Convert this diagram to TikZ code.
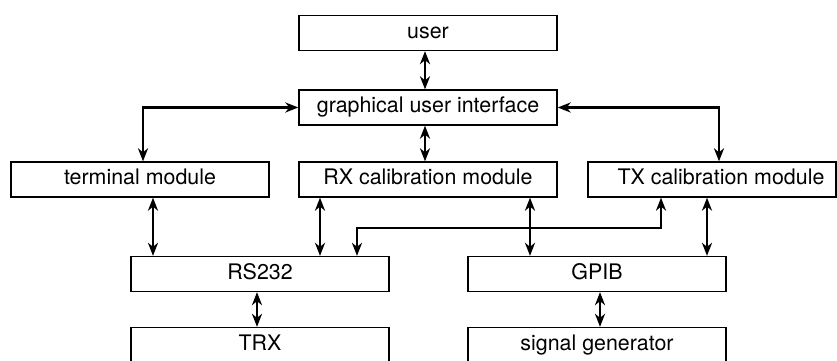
\documentclass[tikz,border=0pt]{standalone}
\usepackage{fontspec}
\setmainfont{TeX Gyre Heros}
\usetikzlibrary{arrows.meta}
\begin{document}
\begin{tikzpicture}[x=1pt,y=1pt,
  blk/.style={draw, line width=1.3pt, minimum width=258pt, minimum height=35pt, inner sep=0pt,
    font=\fontsize{21.4}{25}\selectfont, text height=15.5pt, text depth=4.5pt},
  link/.style={line width=2.4pt, {Stealth[length=13pt,width=10pt,inset=4pt]}-{Stealth[length=13pt,width=10pt,inset=4pt]}}]
\useasboundingbox (0,0) rectangle (837,361);
\clip (0,0) rectangle (837,361);
\node[blk] (user) at (428,328) {user};
\node[blk] (gui) at (428,253.5) {graphical user interface};
\node[blk] (term) at (140,181.5) {terminal module};
\node[blk] (rx) at (428,181.5) {RX calibration module};
\node[blk, minimum width=248pt] (tx) at (712,181.5) {\hspace*{18pt}TX calibration module};
\node[blk] (rs) at (260,87) {RS232};
\node[blk] (gpib) at (597,87) {GPIB};
\node[blk] (trx) at (260,16) {TRX};
\node[blk] (sig) at (597,16) {signal generator};
\coordinate (bend) at (661,133);
\draw[link] ([xshift=-3pt]user.south) -- ([xshift=-3pt]gui.north);
\draw[link] ([xshift=-3pt]gui.south) -- ([xshift=-3pt]rx.north);
\draw[link] ([xshift=3pt]term.north) |- (gui.west);
\draw[link] ([xshift=7pt]tx.north) |- (gui.east);
\draw[link] ([xshift=13pt]term.south) -- ([xshift=-107pt]rs.north);
\draw[link] ([xshift=-108pt]rx.south) -- ([xshift=60pt]rs.north);
\draw[link] ([xshift=102pt]rx.south) -- ([xshift=-67pt]gpib.north);
\draw[link] ([xshift=-5pt]tx.south) -- ([xshift=110pt]gpib.north);
\draw[link] ([xshift=97pt]rs.north) |- (bend) -- (bend |- tx.south);
\draw[link] ([xshift=-3pt]rs.south) -- ([xshift=-3pt]trx.north);
\draw[link] ([xshift=3pt]gpib.south) -- ([xshift=3pt]sig.north);
\end{tikzpicture}
\end{document}
